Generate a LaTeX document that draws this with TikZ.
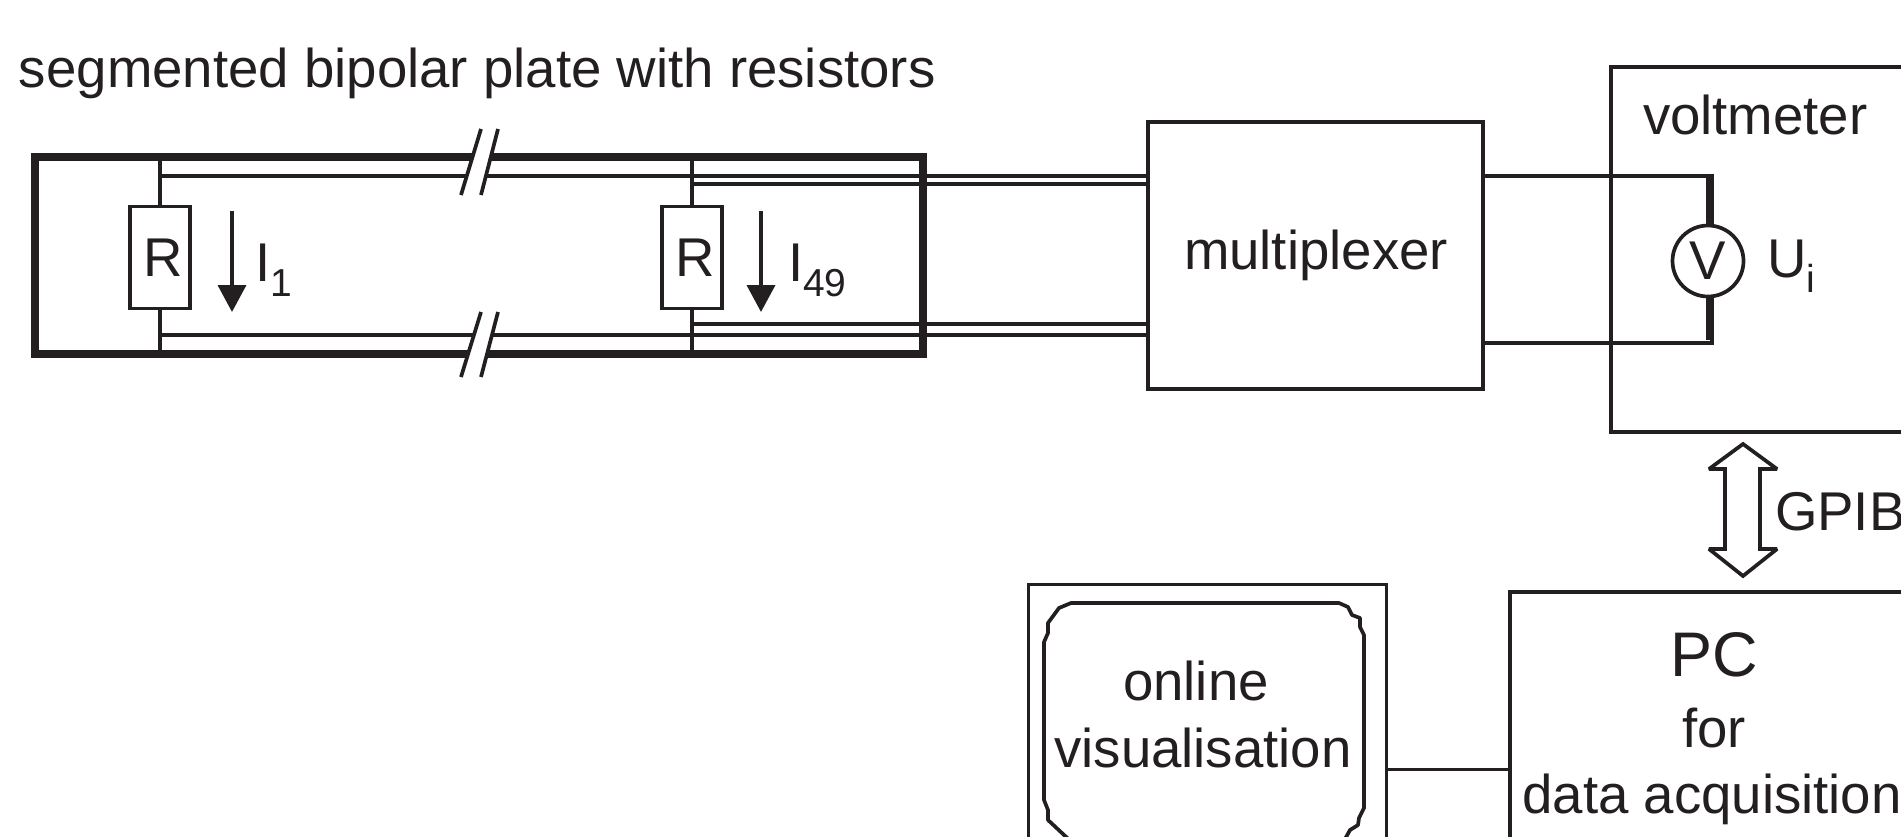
\documentclass[tikz,border=0pt]{standalone}
\usepackage{fontspec}
\setmainfont{Liberation Sans}
\usetikzlibrary{arrows.meta}
\definecolor{tinta}{HTML}{231F20}
\tikzset{
  linea/.style={line width=3.7pt, draw=tinta},
  caja/.style={linea, rectangle, inner sep=0pt, outer sep=0pt},
  texto/.style={inner sep=0pt, outer sep=0pt, text=tinta, font=\fontsize{54.6}{60}\selectfont},
  corriente/.style={line width=3.7pt, draw=tinta, -{Triangle[length=27pt,width=28pt]}}
}
\newcommand{\bajo}[1]{\raisebox{-15.5pt}{\fontsize{39}{39}\selectfont #1}}
\begin{document}
\begin{tikzpicture}[x=1pt,y=-1pt]
  \useasboundingbox (0,0) rectangle (1901,836);
  \clip (0,0) rectangle (1901,836);

  % Placa y resistencias
  \node[texto, anchor=base west] (title) at (19,87) {segmented bipolar plate with resistors};
  \node[caja, line width=7.5pt, minimum width=888pt, minimum height=197pt] (plate) at (479,255.3) {};
  \node[caja, fill=white, minimum width=60pt, minimum height=102pt] (r1) at (160,257.5) {};
  \node[texto] (r1text) at (163,257.5) {R};
  \node[caja, fill=white, minimum width=60pt, minimum height=102pt] (r49) at (692,257.5) {};
  \node[texto] (r49text) at (695,257.5) {R};

  % Cajas
  \node[caja, minimum width=335pt, minimum height=267pt] (mux) at (1315.5,255.5) {};
  \node[texto, anchor=base west] (muxtext) at (1184,269) {multiplexer};
  \node[caja, anchor=north west, minimum width=340pt, minimum height=365pt] (volt) at (1611,67) {};
  \node[texto, anchor=base west] (volttext) at (1643,134) {voltmeter};
  \node[caja, anchor=north west, minimum width=440pt, minimum height=300pt] (pc) at (1510,592) {};
  \node[caja, anchor=north west, minimum width=358pt, minimum height=300pt] (monitor) at (1028.5,584.5) {};

  % Cables de la placa
  \coordinate (wa) at (0,176);
  \coordinate (wb) at (0,183.7);
  \coordinate (wc) at (0,324);
  \coordinate (wd) at (0,335);
  \draw[linea] (r1.north) -- (r1.north |- plate.north);
  \draw[linea] (r1.south) -- (r1.south |- plate.south);
  \draw[linea] (r49.north) -- (r49.north |- plate.north);
  \draw[linea] (r49.south) -- (r49.south |- plate.south);
  \draw[linea] (r1.north |- wa) -- (mux.west |- wa);
  \draw[linea] (r49.north |- wb) -- (mux.west |- wb);
  \draw[linea] (r49.south |- wc) -- (mux.west |- wc);
  \draw[linea] (r1.south |- wd) -- (mux.west |- wd);

  % Cortes
  \fill[white] (461,195) -- (481,129) -- (498,129) -- (481,195) -- cycle;
  \draw[linea] (461,195) -- (481,129);
  \draw[linea] (481,195) -- (498,129);
  \fill[white] (461,377) -- (481,312) -- (498,312) -- (481,377) -- cycle;
  \draw[linea] (461,377) -- (481,312);
  \draw[linea] (481,377) -- (498,312);

  % Corrientes
  \coordinate (ia) at (232,211);
  \coordinate (ib) at (232,312);
  \draw[corriente] (ia) -- (ib);
  \node[texto, anchor=base west] (i1) at (255,281) {I\bajo{1}};
  \coordinate (ic) at (761,211);
  \coordinate (id) at (761,312);
  \draw[corriente] (ic) -- (id);
  \node[texto, anchor=base west] (i49) at (788,281) {I\bajo{49}};

  % Voltimetro
  \coordinate (va) at (1712,176);
  \coordinate (vb) at (1712,343);
  \draw[linea] (mux.east |- va) -- (va) -- (vb) -- (mux.east |- vb);
  \draw[linea] (1708,176) -- (1708,340);
  \node[caja, circle, fill=white, minimum size=71pt, texto] (v) at (1708,261) {V};
  \node[texto, anchor=base west] (ui) at (1767,277) {U\bajo{i}};

  % Bus
  \draw[linea, fill=white, miter limit=2] (1743,444) -- (1777,469) -- (1760,469) -- (1760,549) -- (1777,549)
    -- (1743,576) -- (1709,549) -- (1725,549) -- (1725,469) -- (1709,469) -- cycle;
  \node[texto, anchor=base west] (gpib) at (1775,530) {GPIB};

  % PC
  \node[texto, anchor=base, font=\fontsize{63}{70}\selectfont] (pctext) at (1714,676) {PC};
  \node[texto, anchor=base] (fortext) at (1714,747) {for};
  \node[texto, anchor=base] (datatext) at (1712,813) {data acquisition};

  % Pantalla
  \draw[linea, line join=round] (1071,603) -- (1059,608) -- (1048,623) -- (1048,633) -- (1044,642)
    -- (1044,800) -- (1048,810) -- (1048,820) -- (1078,848) -- (1340,848) -- (1350,830)
    -- (1358,825) -- (1359,818) -- (1364,808) -- (1364,635) -- (1360,627) -- (1360,618)
    -- (1352,615) -- (1348,607) -- (1339,603) -- cycle;
  \node[texto, anchor=base] (online) at (1196,700) {online};
  \node[texto, anchor=base] (visual) at (1203,767) {visualisation};
  \coordinate (mp) at (0,769.5);
  \draw[linea] (monitor.east |- mp) -- (pc.west |- mp);
\end{tikzpicture}
\end{document}
